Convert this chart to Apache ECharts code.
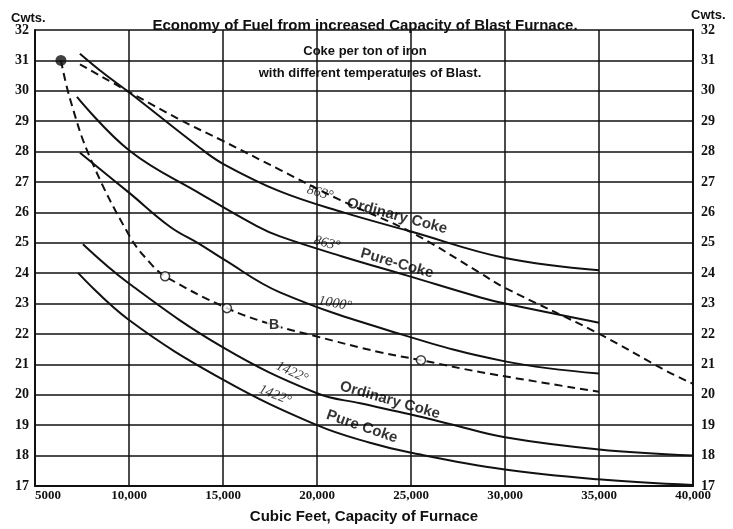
<!DOCTYPE html>
<html>
<head>
<meta charset="utf-8">
<script src="https://cdn.jsdelivr.net/npm/echarts@6/dist/echarts.min.js"></script>
<style>
html, body { margin: 0; padding: 0; background: #fff; }
#chart { width: 733px; height: 529px; }
</style>
</head>
<body>
<div id="chart"></div>
<script>
// cubic feet on x, cwts of coke per ton of iron on y
var xMin = 5000, xMax = 40000, xStep = 5000;
var yMin = 17, yMax = 32;

var ordinary863 = [[7390, 31.22], [8600, 30.6], [10000, 29.95], [13780, 28.12], [15000, 27.6], [18000, 26.7], [21400, 26.0], [25000, 25.37], [30000, 24.5], [35000, 24.1]];
var pure863 = [[7230, 29.8], [10050, 28.02], [13780, 26.62], [16800, 25.55], [18030, 25.21], [21300, 24.56], [24800, 23.92], [28700, 23.2], [30000, 23.0], [35000, 22.37]];
var pure1000 = [[7390, 27.96], [10000, 26.65], [12180, 25.53], [13780, 24.95], [15000, 24.47], [18030, 23.37], [24530, 21.98], [30000, 21.1], [35000, 20.7]];
var ordinary1422 = [[7550, 24.95], [10000, 23.66], [15000, 21.56], [20000, 20.05], [22300, 19.72], [25000, 19.35], [27000, 19.05], [30000, 18.6], [35000, 18.2], [40000, 18.0]];
var pure1422 = [[7290, 24.01], [10000, 22.46], [15000, 20.5], [20000, 19.0], [22820, 18.42], [24950, 18.1], [29900, 17.55], [34950, 17.22], [40000, 17.03]];
var upperDashed = [[7390, 30.87], [12550, 29.1], [15000, 28.35], [18030, 27.4], [21220, 26.41], [25000, 25.35], [28670, 24.01], [29900, 23.55], [34900, 22.04], [38600, 20.78], [40000, 20.36]];
var curveB = [[6380, 31.0], [6860, 29.74], [7930, 27.8], [10050, 25.2], [11120, 24.34], [11920, 23.9], [15210, 22.85], [17660, 22.3], [19790, 21.95], [23350, 21.4], [25530, 21.14], [28670, 20.75], [35000, 20.1]];
var circlesB = [[11920, 23.9], [15210, 22.85], [25530, 21.14]];
var startDot = [[6380, 31.0]];

// [text, x, y, rotation in degrees, style]
var curveLabels = [
    ['863°', 20160, 26.64, -15, 'num'],
    ['Ordinary Coke', 24255, 25.88, -15, 'word'],
    ['863°', 20530, 24.98, -14, 'num'],
    ['Pure-Coke', 24255, 24.32, -16, 'word'],
    ['1000°', 20960, 23.0, -10, 'num'],
    ['B', 17710, 22.3, 0, 'b'],
    ['1422°', 18670, 20.74, -25, 'num'],
    ['Ordinary Coke', 23880, 19.82, -16, 'word'],
    ['1422°', 17770, 19.99, -22, 'num'],
    ['Pure Coke', 22390, 18.95, -19, 'word']
];

var labelStyles = {
    num: { fontFamily: 'Liberation Serif', fontStyle: 'italic', fontSize: 14, color: '#000' },
    word: { fontFamily: 'Liberation Sans', fontWeight: 'bold', fontSize: 15, color: '#000' },
    b: { fontFamily: 'Liberation Sans', fontWeight: 'bold', fontSize: 14, color: '#000', backgroundColor: '#fff', padding: [0, 2] }
};

function curve(name, data, dashed) {
    return {
        name: name,
        type: 'line',
        data: data,
        smooth: 0.4,
        symbol: 'none',
        lineStyle: { color: '#111', width: 2, type: dashed ? [8, 5] : 'solid' },
        z: 3
    };
}

var chart = echarts.init(document.getElementById('chart'));

var labelData = curveLabels.map(function (l) {
    var st = labelStyles[l[4]];
    return {
        value: [l[1], l[2]],
        label: Object.assign({ show: true, formatter: l[0], rotate: l[3], position: 'inside', textBorderWidth: 0 }, st)
    };
});

var sans = 'Liberation Sans';
var serif = 'Liberation Serif';

var option = {
    animation: false,
    backgroundColor: '#fff',
    title: [
        { text: 'Economy of Fuel from increased Capacity of Blast Furnace.', left: 360, top: 13, textAlign: 'center',
          textStyle: { fontFamily: sans, fontWeight: 'bold', fontSize: 15, color: '#111' } },
        { text: 'Cwts.', left: 6, top: 7, textStyle: { fontFamily: sans, fontWeight: 'bold', fontSize: 13, color: '#111' } },
        { text: 'Cwts.', left: 686, top: 4, textStyle: { fontFamily: sans, fontWeight: 'bold', fontSize: 13, color: '#111' } },
        { text: 'Coke per ton of iron', left: 360, top: 40, textAlign: 'center',
          textStyle: { fontFamily: sans, fontWeight: 'bold', fontSize: 13, color: '#111' } },
        { text: 'with different temperatures of Blast.', left: 365, top: 62, textAlign: 'center',
          textStyle: { fontFamily: sans, fontWeight: 'bold', fontSize: 13, color: '#111' } }
    ],
    grid: { left: 35, right: 40, top: 30, bottom: 35 },
    xAxis: {
        type: 'value',
        min: xMin,
        max: xMax,
        interval: xStep,
        name: 'Cubic Feet, Capacity of Furnace',
        nameLocation: 'middle',
        nameGap: 23,
        nameTextStyle: { fontFamily: sans, fontWeight: 'bold', fontSize: 15, color: '#111' },
        axisLine: { lineStyle: { color: '#111', width: 2 } },
        axisTick: { show: false },
        splitLine: { lineStyle: { color: '#111', width: 1.5 } },
        axisLabel: {
            margin: 3,
            fontFamily: serif, fontWeight: 'bold', fontSize: 13, color: '#111',
            alignMinLabel: 'left',
            formatter: function (v) {
                return v === 5000 ? '5000' : (v / 1000) + ',000';
            }
        }
    },
    yAxis: [{
        type: 'value',
        min: yMin,
        max: yMax,
        interval: 1,
        axisLine: { show: true, lineStyle: { color: '#111', width: 2 } },
        axisTick: { show: false },
        splitLine: { lineStyle: { color: '#111', width: 1.5 } },
        axisLabel: { margin: 6, fontFamily: serif, fontWeight: 'bold', fontSize: 14, color: '#111' }
    }, {
        type: 'value',
        position: 'right',
        min: yMin,
        max: yMax,
        interval: 1,
        axisLine: { show: true, lineStyle: { color: '#111', width: 2 } },
        axisTick: { show: false },
        splitLine: { show: false },
        axisLabel: { margin: 8, padding: [0, 0, 8, 0], fontFamily: serif, fontWeight: 'bold', fontSize: 14, color: '#111' }
    }],
    series: [
        curve('863° Ordinary Coke', ordinary863, false),
        curve('863° Pure Coke', pure863, false),
        curve('1000°', pure1000, false),
        curve('1422° Ordinary Coke', ordinary1422, false),
        curve('1422° Pure Coke', pure1422, false),
        curve('Upper dashed', upperDashed, true),
        curve('B', curveB, true),
        {
            type: 'scatter',
            data: circlesB,
            symbol: 'circle',
            symbolSize: 9,
            itemStyle: { color: '#fff', borderColor: '#111', borderWidth: 1.5 },
            z: 5
        },
        {
            type: 'scatter',
            data: startDot,
            symbolSize: 11,
            itemStyle: { color: '#111' },
            z: 5
        },
        {
            type: 'scatter',
            data: labelData,
            symbolSize: 1,
            itemStyle: { color: 'rgba(0,0,0,0)' },
            z: 6
        }
    ]
};

chart.setOption(option);
</script>
</body>
</html>
